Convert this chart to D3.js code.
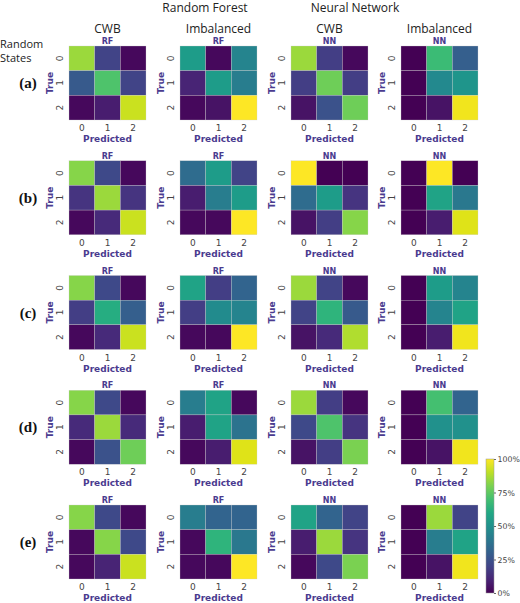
<!DOCTYPE html><html><head><meta charset="utf-8">
<script src="https://cdn.jsdelivr.net/npm/d3@7"></script>
<style>body{margin:0;background:#fff}</style></head><body><svg id="c" width="520" height="603"></svg>
<script>
const rowLabels=["(a)","(b)","(c)","(d)","(e)"];
const colHeads=["CWB","Imbalanced","CWB","Imbalanced"];
const modelTags=["RF","RF","NN","NN"];
const groupHeads=["Random Forest","Neural Network"];
const classes=["0","1","2"];
const cbTicks=[0,0.25,0.5,0.75,1];
const rowA=[[[.85,.2,.02],[.28,.72,.2],[.02,.08,.92]],[[.55,.02,.45],[.1,.55,.42],[.02,.05,1]],[[.85,.18,.02],[.18,.78,.18],[.05,.25,.78]],[[0,.68,.3],[0,.47,.52],[0,.05,.98]]];
const rowB=[[[.82,.22,.02],[.15,.85,.15],[.02,.12,.92]],[[.35,.55,.2],[.08,.42,.55],[.02,.02,1]],[[1,0,0],[.35,.55,.15],[.05,.18,.82]],[[0,1,0],[0,.58,.4],[0,.08,.95]]];
const rowC=[[[.82,.22,.02],[.18,.62,.3],[.02,.12,.92]],[[.58,.18,.32],[.18,.48,.45],[.02,.02,1]],[[.85,.2,.02],[.2,.65,.28],[.05,.12,.88]],[[0,.55,.45],[0,.45,.58],[0,.08,.98]]];
const rowD=[[[.82,.22,.02],[.12,.85,.12],[.02,.25,.78]],[[.42,.58,.02],[.08,.58,.38],[.02,.08,.95]],[[.85,.18,.02],[.22,.72,.15],[.05,.18,.8]],[[0,.7,.32],[0,.5,.5],[0,.05,.98]]];
const rowE=[[[.82,.22,.02],[.02,.82,.22],[.02,.1,.92]],[[.42,.32,.32],[.02,.65,.4],[.02,.02,1]],[[.58,.32,.2],[.08,.85,.15],[.02,.22,.8]],[[0,.85,.2],[0,.42,.58],[0,.05,.98]]];
const rows=[rowA,rowB,rowC,rowD,rowE];

const svg=d3.select("#c");
const purple="#4a3b8f", grey="#444";
const colX=[69,180,291,401], W=77, H=74;
const rowY=d3.scaleLinear().domain([0,4]).range([46,505]);
const color=v=>d3.interpolateViridis(v);

svg.append("text").attr("x",205).attr("y",12).attr("text-anchor","middle").attr("font-family","Open Sans").attr("font-size",12).attr("fill","#222").text(groupHeads[0]);
svg.append("text").attr("x",355).attr("y",12).attr("text-anchor","middle").attr("font-family","Open Sans").attr("font-size",12).attr("fill","#222").text(groupHeads[1]);
colHeads.forEach((h,i)=>svg.append("text").attr("x",colX[i]+W/2).attr("y",33).attr("text-anchor","middle").attr("font-family","Open Sans").attr("font-size",12).attr("fill","#222").text(h));
svg.append("text").attr("x",0).attr("y",48).attr("font-family","Open Sans").attr("font-size",11).attr("fill","#222").text("Random");
svg.append("text").attr("x",0).attr("y",62).attr("font-family","Open Sans").attr("font-size",11).attr("fill","#222").text("States");

rows.forEach((row,r)=>{
  const y0=rowY(r);
  svg.append("text").attr("x",28).attr("y",y0+H/2+5).attr("text-anchor","middle").attr("font-family","Liberation Serif").attr("font-weight","bold").attr("font-size",15).attr("fill","#111").text(rowLabels[r]);
  row.forEach((m,c)=>{
    const x0=colX[c];
    const xs=d3.scaleBand().domain(classes).range([x0,x0+W]);
    const ys=d3.scaleBand().domain(classes).range([y0,y0+H]);
    const g=svg.append("g");
    m.forEach((rv,i)=>rv.forEach((v,j)=>{
      g.append("rect").attr("x",xs(classes[j])).attr("y",ys(classes[i])).attr("width",xs.bandwidth()).attr("height",ys.bandwidth()).attr("fill",color(v)).attr("stroke","#ccc").attr("stroke-width",0.3);
    }));
    g.append("text").attr("x",x0+W/2).attr("y",y0-2).attr("text-anchor","middle").attr("font-family","DejaVu Sans").attr("font-weight","bold").attr("font-size",8).attr("fill",purple).text(modelTags[c]);
    classes.forEach(k=>{
      g.append("text").attr("x",xs(k)+xs.bandwidth()/2).attr("y",y0+H+11).attr("text-anchor","middle").attr("font-family","DejaVu Sans").attr("font-size",9).attr("fill",grey).text(k);
      const ty=ys(k)+ys.bandwidth()/2;
      g.append("text").attr("transform",`translate(${x0-6},${ty}) rotate(-90)`).attr("text-anchor","middle").attr("font-family","DejaVu Sans").attr("font-size",9).attr("fill",grey).text(k);
    });
    g.append("text").attr("x",x0+W/2).attr("y",y0+H+22).attr("text-anchor","middle").attr("font-family","DejaVu Sans").attr("font-weight","bold").attr("font-size",9).attr("fill",purple).text("Predicted");
    g.append("text").attr("transform",`translate(${x0-16},${y0+H/2}) rotate(-90)`).attr("text-anchor","middle").attr("font-family","DejaVu Sans").attr("font-weight","bold").attr("font-size",9).attr("fill",purple).text("True");
  });
});

// colorbar
const cbY=d3.scaleLinear().domain([0,1]).range([593,459]);
const defs=svg.append("defs");
const lg=defs.append("linearGradient").attr("id","vg").attr("x1",0).attr("y1",1).attr("x2",0).attr("y2",0);
d3.range(0,1.01,0.1).forEach(t=>lg.append("stop").attr("offset",t).attr("stop-color",color(t)));
svg.append("rect").attr("x",486).attr("y",459).attr("width",8).attr("height",134).attr("fill","url(#vg)").attr("stroke","#999").attr("stroke-width",0.5);
const ax=d3.axisRight(cbY).tickValues(cbTicks).tickFormat(d=>Math.round(d*100)+"%").tickSize(2).tickPadding(1.5);
const ag=svg.append("g").attr("transform","translate(494,0)").call(ax);
ag.select(".domain").remove();
ag.selectAll("text").attr("font-family","DejaVu Sans").attr("font-size",7.8).attr("fill",grey);
ag.selectAll("line").attr("stroke","#666");
</script></body></html>
